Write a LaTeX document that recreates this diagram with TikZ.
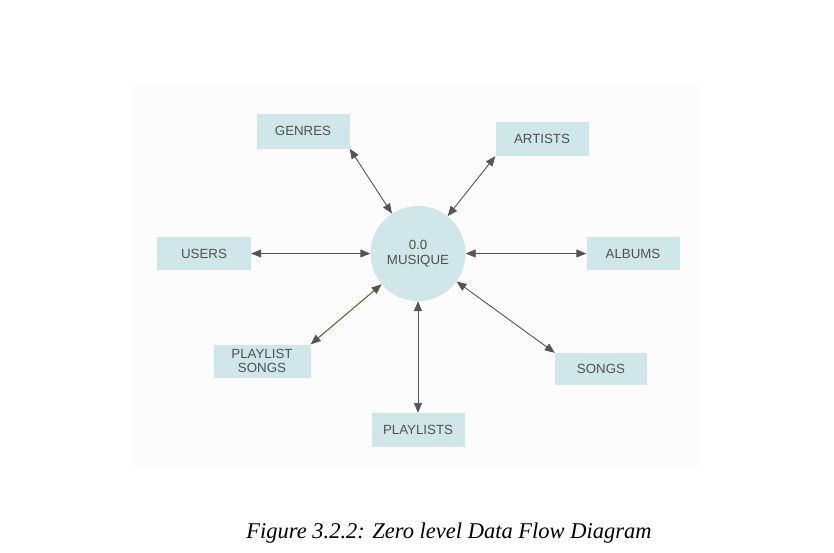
\documentclass[tikz,border=0pt]{standalone}
\usepackage{fontspec}
\setmainfont{Liberation Serif}
\newfontfamily\boxfont{Liberation Sans}
\usetikzlibrary{arrows.meta}
\definecolor{boxfill}{HTML}{CFE7E8}
\definecolor{txtgray}{HTML}{505050}
\definecolor{linegray}{HTML}{555555}
\definecolor{halo}{HTML}{F7EFC8}
\tikzset{
  entity/.style={fill=boxfill, draw=none, inner sep=0pt, align=center,
    font=\boxfont\fontsize{13.3}{13.5}\selectfont, text=txtgray},
  process/.style={circle, fill=boxfill, draw=none, inner sep=0pt, minimum size=95pt,
    align=center, font=\boxfont\fontsize{13.3}{15}\selectfont, text=txtgray},
  flow/.style={draw=linegray, line width=0.9pt,
    {Triangle[length=10pt,width=8pt]}-{Triangle[length=10pt,width=8pt]}},
}
\begin{document}
\begin{tikzpicture}[x=1pt,y=-1pt]
\useasboundingbox (0,0) rectangle (834,552);
\fill[black!1.2] (132,86) rectangle (700,466);
\node[process] (mus) at (418,253.5) {0.0\\MUSIQUE};
\node[entity, minimum width=93pt, minimum height=35pt] (genres) at (303,131) {GENRES};
\node[entity, minimum width=93pt, minimum height=34pt] (artists) at (542,139) {ARTISTS};
\node[entity, minimum width=94pt, minimum height=33pt] (users) at (204,253.5) {USERS};
\node[entity, minimum width=93pt, minimum height=33pt] (albums) at (633,253.5) {ALBUMS};
\node[entity, minimum width=97pt, minimum height=33pt] (psongs) at (262,361) {PLAYLIST\\SONGS};
\node[entity, minimum width=92pt, minimum height=32pt] (songs) at (601,369) {SONGS};
\node[entity, minimum width=93pt, minimum height=34pt] (playlists) at (418,430) {PLAYLISTS};
\draw[flow] (genres.south east) -- (mus);
\draw[flow] (artists.south west) -- (mus);
\draw[flow] (users) -- (mus);
\draw[flow] (albums) -- (mus);
\draw[halo, line width=2.5pt] (psongs.north east) -- (mus);
\draw[flow] (psongs.north east) -- (mus);
\draw[flow] (songs.north west) -- (mus);
\draw[flow] (playlists) -- (mus);
\node[font=\itshape\fontsize{22.5}{24}\selectfont, anchor=base] (cap) at (449,538) {Figure 3.2.2: Zero level Data Flow Diagram};
\end{tikzpicture}
\end{document}
